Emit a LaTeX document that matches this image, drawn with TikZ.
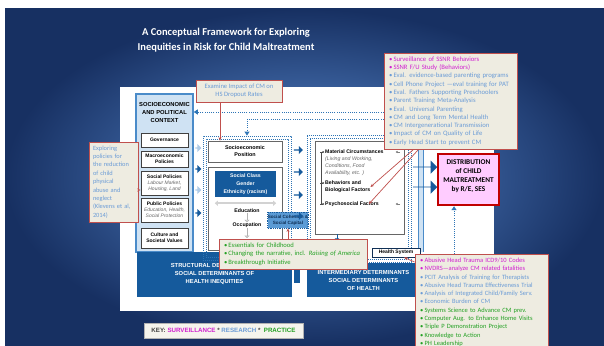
\documentclass[tikz,border=0pt]{standalone}
\usepackage{fontspec}
\setmainfont{Carlito}
\newfontfamily\arialf{Liberation Sans}
\usetikzlibrary{arrows.meta,shapes.arrows}

\definecolor{slidedark}{HTML}{173062}
\definecolor{slidelight}{HTML}{5C8FD6}
\definecolor{csdhblue}{HTML}{155A9C}
\definecolor{csdhdark}{HTML}{0F2F55}
\definecolor{ctxfill}{HTML}{CFE2F3}
\definecolor{ctxline}{HTML}{4A8BC9}
\definecolor{notefill}{HTML}{EEECE1}
\definecolor{noteline}{HTML}{C0504D}
\definecolor{survcol}{HTML}{D020D0}
\definecolor{rescol}{HTML}{6A9BD6}
\definecolor{praccol}{HTML}{22A022}
\definecolor{distline}{HTML}{C00000}
\definecolor{distfill}{HTML}{FFCCFF}
\definecolor{dotblue}{HTML}{2E75B6}
\definecolor{cohfill}{HTML}{5B9BD5}

\newcommand\itm[2]{\textcolor{#1}{\mbox{\makebox[4.5pt][l]{\textbullet}#2}}}
\newcommand\subnote[1]{{\mdseries\itshape\color{black!60}#1}}

\tikzset{
  note/.style={draw=noteline, line width=0.9pt, fill=notefill, inner sep=0pt},
  redarrow/.style={draw=noteline, line width=0.7pt, -{Stealth[length=3.5pt,width=3pt]}},
  ctxitem/.style={draw=black!75, line width=0.7pt, fill=white, minimum width=47pt, align=center,
    font=\arialf\bfseries\fontsize{5}{6.2}\selectfont},
  graybox/.style={draw=black!60, line width=0.8pt, fill=white},
  detbox/.style={fill=csdhblue, text=white, align=center, font=\arialf\bfseries\fontsize{5.8}{8}\selectfont},
  dotframe/.style={draw=dotblue, line width=0.9pt, dash pattern=on 0.9pt off 1.1pt},
  fbline/.style={draw=dotblue, line width=1pt, dash pattern=on 1pt off 1.2pt, -{Triangle[length=4pt,width=5pt]}},
  smallarr/.style={single arrow, fill=csdhblue, minimum height=9pt, minimum width=8pt, single arrow head extend=1.2pt},
  bigarr/.style={single arrow, fill=csdhblue, minimum height=24pt, minimum width=13pt, single arrow head extend=2.5pt},
  difont/.style={font=\arialf\bfseries\fontsize{5.2}{7}\selectfont, align=left},
  hollowarrow/.style={draw=gray!60, line width=0.6pt, -{Triangle[open,length=2.5pt,width=5pt]}},
}

\begin{document}
\begin{tikzpicture}[x=1pt, y=-1pt, every node/.append style={inner sep=0pt}]
\useasboundingbox (0,0) rectangle (604,345);
\clip (0,0) rectangle (604,345);

% slide background
\fill[white] (0,0) rectangle (604,345);
\shade[inner color=slidelight, outer color=slidedark] (5,9) rectangle (604,345);

\node[font=\bfseries\fontsize{10.5}{15}\selectfont, text=white, align=center] (title) at (226,40)
  {A Conceptual Framework for Exploring\\Inequities in Risk for Child Maltreatment};

% white diagram panel
\fill[white] (120,87) rectangle (494,311);

% structural column
\node[fill=ctxfill, draw=ctxline, line width=1.6pt, minimum width=57pt, minimum height=158pt] (ctx) at (164.5,173) {};
\node[font=\arialf\bfseries\fontsize{5.8}{8}\selectfont, align=center] (ctxhead) at (164.5,113) {SOCIOECONOMIC\\AND POLITICAL\\CONTEXT};
\node[ctxitem, minimum height=14pt] (gov) at (164.5,140) {Governance};
\node[ctxitem, minimum height=16pt] (macro) at (164.5,159) {Macroeconomic\\Policies};
\node[ctxitem, minimum height=24pt] (socpol) at (164.5,183) {Social Policies\\\subnote{Labour Market,}\\\subnote{Housing, Land}};
\node[ctxitem, minimum height=24pt] (pubpol) at (164.5,210) {Public Policies\\\subnote{Education, Health,}\\\subnote{Social Protection}};
\node[ctxitem, minimum height=20pt] (culture) at (164.5,238) {Culture and\\Societal Values};

\node[detbox, minimum width=155pt, minimum height=45pt] (structural) at (214.5,274.5) {STRUCTURAL DETERMINANTS\\SOCIAL DETERMINANTS OF\\HEALTH INEQUITIES};
\node[detbox, minimum width=113pt, minimum height=34pt] (intermed) at (363.5,280) {INTERMEDIARY DETERMINANTS\\SOCIAL DETERMINANTS\\OF HEALTH};
\fill[csdhblue] (294,240) rectangle (300,283);

% socioeconomic position
\node[dotframe, minimum width=88pt, minimum height=124pt] (sef) at (247,198) {};
\node[dotframe, minimum width=82pt, minimum height=118pt] (sefin) at (247,198) {};
\node[graybox, minimum width=74pt, minimum height=21pt, font=\arialf\bfseries\fontsize{5.4}{7}\selectfont, align=center] (socpos) at (245,151.5) {Socioeconomic\\Position};
\node[graybox, minimum width=74pt, minimum height=83pt] (stratbox) at (245,208.5) {};
\node[fill=csdhblue, text=white, minimum width=61pt, minimum height=26pt, align=center,
  font=\arialf\bfseries\fontsize{5.2}{8}\selectfont] (stratif) at (245.5,184) {Social Class\\Gender\\Ethnicity (racism)};
\draw[gray!35, line width=1.6pt, {Triangle[length=3pt,width=5pt]}-{Triangle[length=3pt,width=5pt]}]
  ([yshift=-6pt]stratif.south west) -- ([yshift=-6pt]stratif.south east);
\node[font=\arialf\bfseries\fontsize{5.2}{7}\selectfont] (edu) at (247,211) {Education};
\node[font=\arialf\bfseries\fontsize{5.2}{7}\selectfont] (occ) at (247,225) {Occupation};
\coordinate (incomeup) at (247,238);
\draw[hollowarrow] (edu) -- (occ);
\draw[hollowarrow] (occ) -- (incomeup);

\node[fill=cohfill, draw=csdhblue, densely dotted, line width=0.8pt, minimum width=40pt, minimum height=16pt, align=center,
  text=csdhdark, font=\arialf\bfseries\fontsize{4.6}{6}\selectfont] (cohesion) at (288,220) {Social Cohesion \&\\Social Capital};

% material circumstances
\fill[ctxfill] (418,134) rectangle (423,252);
\draw[ctxline, line width=0.6pt] (418,134) -- (418,252) (423,134) -- (423,252);
\node[dotframe, minimum width=104pt, minimum height=127pt] (mef) at (359,198.5) {};
\node[dotframe, minimum width=98pt, minimum height=121pt] (mefin) at (359,198.5) {};
\node[graybox, minimum width=89pt, minimum height=93pt] (matbox) at (359.5,187.5) {};
\node[difont, anchor=west] (mat) at (325,162.5) {Material Circumstances\\\subnote{(Living and Working,}\\\subnote{Conditions, Food}\\\subnote{Availability, etc. )}};
\node[difont, anchor=west] (behav) at (325,187) {Behaviors and\\Biological Factors};
\node[difont, anchor=west] (psych) at (325,204) {Psychosocial Factors};
\draw[black!70, line width=0.6pt] (321,152) -- (321,204);
\foreach \y in {152,183,204}
  \draw[black!70, line width=0.6pt, -{Latex[length=2pt,width=2.5pt]}] (320,\y) -- (324.5,\y);
\foreach \y in {152,204}
  \draw[black!50, line width=0.6pt, -{Latex[length=2pt,width=2.5pt]}] (400,\y) -- (395.5,\y);
\draw[csdhblue, line width=1pt, -{Triangle[length=3pt,width=4pt]}] ([xshift=-22.5pt]matbox.south) -- +(0,7);

% arrows between columns
\foreach \y/\col [count=\i] in {148/ctxline!45, 169/csdhblue, 190/ctxline!45, 213/csdhblue}
  \node[smallarr, fill=\col, minimum height=6pt] (lm\i) at (198,\y) {};
\foreach \y [count=\i] in {150,172,195,216}
  \node[smallarr] (sa\i) at (298,\y) {};
\node[bigarr] (ba1) at (425,167) {};
\node[bigarr] (ba2) at (425,187) {};

% outcome
\node[draw=distline, line width=2.4pt, fill=distfill, minimum width=61pt, minimum height=51pt] (distrib) at (468.5,179.5) {};
\node[font=\bfseries\fontsize{7.3}{9}\selectfont, align=center] (distribtxt) at (468.5,176) {DISTRIBUTION\\of CHILD\\MALTREATMENT\\by R/E, SES};

\node[draw=csdhdark, line width=0.8pt, fill=white, minimum width=48pt, minimum height=9pt,
  font=\arialf\bfseries\fontsize{5}{6}\selectfont] (hsys) at (396,252.5) {Health System};

% feedback lines
\coordinate (fbA) at (430,112);
\coordinate (fbB) at (430,119);
\coordinate (fbC) at (454,256);
\draw[fbline] (fbA) -- (fbA -| ctx.east);
\draw[fbline] (fbB) -| (sef.north);
\draw[fbline] (fbC) -- (fbC |- distrib.south);

% notes
\node[note, minimum width=86pt, minimum height=22pt, text=rescol, font=\fontsize{6.6}{8.5}\selectfont, align=center] (examine) at (239,91)
  {Examine Impact of CM on\\HS Dropout Rates};
\draw[redarrow] ([xshift=-19pt]examine.south) -- ([xshift=-19pt]examine.south |- socpos.north);

\node[note, minimum width=49pt, minimum height=80pt, text=rescol, font=\fontsize{6.4}{8.4}\selectfont, align=left, text width=41pt] (klevens) at (113.5,182)
  {Exploring\\policies for\\the reduction\\of child\\physical\\abuse and\\neglect\\(Klevens et al,\\2014)};
\draw[redarrow] ([yshift=-8pt]klevens.east) -- ([yshift=-8pt]klevens.east -| socpol.west);

\node[note, minimum width=133pt, minimum height=96pt, font=\fontsize{6.7}{8.3}\selectfont, align=left, text width=123pt] (srvnote) at (450.5,101) {%
  \itm{survcol}{Surveillance of SSNR Behaviors}\\
  \itm{survcol}{SSNR F/U Study (Behaviors)}\\
  \itm{rescol}{Eval. evidence-based parenting programs}\\
  \itm{rescol}{Cell Phone Project ---eval training for PAT}\\
  \itm{rescol}{Eval. Fathers Supporting Preschoolers}\\
  \itm{rescol}{Parent Training Meta-Analysis}\\
  \itm{rescol}{Eval. Universal Parenting}\\
  \itm{rescol}{CM and Long Term Mental Health}\\
  \itm{rescol}{CM Intergenerational Transmission}\\
  \itm{rescol}{Impact of CM on Quality of Life}\\
  \itm{rescol}{Early Head Start to prevent CM}};
\draw[redarrow] ([xshift=-37pt]srvnote.south) -- (behav.east);
\draw[redarrow] ([xshift=-32pt]srvnote.south) -- ([xshift=-10pt]psych.east);

\node[note, minimum width=148pt, minimum height=30pt, font=\fontsize{6.6}{8.5}\selectfont, align=left, text width=138pt] (prognote) at (293,254) {%
  \itm{praccol}{Essentials for Childhood}\\
  \itm{praccol}{Changing the narrative, incl. \textit{Raising of America}}\\
  \itm{praccol}{Breakthrough Initiative}};
\draw[redarrow] (cohesion.south |- prognote.north) -- (cohesion.south);

\node[note, anchor=north, minimum width=133pt, inner ysep=3.5pt, font=\fontsize{6.5}{8.3}\selectfont, align=left, text width=123pt] (hsnote) at (481.5,254) {%
  \itm{survcol}{Abusive Head Trauma ICD9/10 Codes}\\
  \itm{survcol}{NVDRS---analyze CM related fatalities}\\
  \itm{rescol}{PCIT Analysis of Training for Therapists}\\
  \itm{rescol}{Abusive Head Trauma Effectiveness Trial}\\
  \itm{rescol}{Analysis of Integrated Child/Family Serv.}\\
  \itm{rescol}{Economic Burden of CM}\\
  \itm{praccol}{Systems Science to Advance CM prev.}\\
  \itm{praccol}{Computer Aug. to Enhance Home Visits}\\
  \itm{praccol}{Triple P Demonstration Project}\\
  \itm{praccol}{Knowledge to Action}\\
  \itm{praccol}{PH Leadership}};
\draw[redarrow] ([yshift=-8pt]hsnote.north west) -- ([xshift=8pt]hsys.south);

% key
\node[draw=gray!60, line width=0.6pt, fill=notefill!60!white, minimum width=159pt, minimum height=15pt,
  font=\arialf\bfseries\fontsize{6.2}{7}\selectfont] (keybox) at (223.5,330.5)
  {\textcolor{black!75}{KEY:}\ \textcolor{survcol}{SURVEILLANCE} \textcolor{black!75}{*} \textcolor{rescol}{RESEARCH} \textcolor{black!75}{*}\ \ \textcolor{praccol}{PRACTICE}};
\end{tikzpicture}
\end{document}
